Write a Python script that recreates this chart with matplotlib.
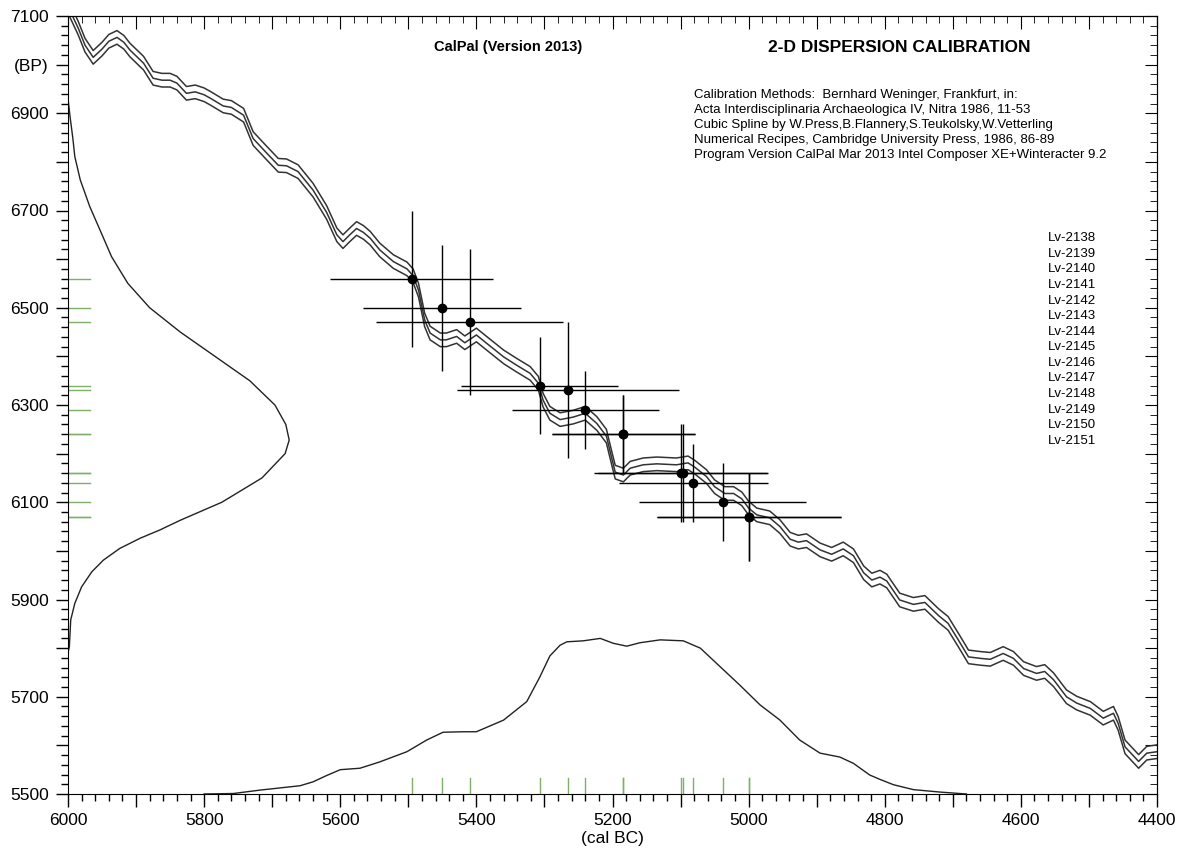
import numpy as np
import matplotlib
matplotlib.use("Agg")
import matplotlib.pyplot as plt
from matplotlib.ticker import MultipleLocator, FuncFormatter

plt.rcParams['font.family'] = ['Liberation Sans', 'DejaVu Sans']

# calibration curve centre line (cal BC, BP)
curve_calbc = [6000, 5985, 5975, 5963, 5950, 5940, 5928, 5918, 5909, 5889, 5875, 5862, 5850, 5840,
               5826, 5813, 5800, 5791, 5772, 5760, 5742, 5728, 5708, 5691, 5679, 5662, 5640, 5620,
               5605, 5596, 5586, 5576, 5566, 5556, 5542, 5522, 5502, 5493, 5485, 5476, 5468, 5453,
               5444, 5429, 5417, 5400, 5385, 5360, 5341, 5321, 5309, 5302, 5292, 5277, 5258, 5240,
               5223, 5209, 5201, 5196, 5184, 5174, 5155, 5135, 5106, 5089, 5079, 5062, 5050, 5035,
               5022, 5010, 5000, 4988, 4969, 4954, 4939, 4927, 4915, 4895, 4878, 4861, 4846, 4831,
               4819, 4807, 4797, 4778, 4758, 4741, 4721, 4707, 4692, 4677, 4660, 4645, 4626, 4611,
               4596, 4577, 4565, 4552, 4533, 4518, 4498, 4479, 4464, 4457, 4447, 4427, 4415, 4400]
curve_bp = [7120, 7075, 7040, 7015, 7032, 7048, 7056, 7046, 7030, 7003, 6972, 6968, 6968, 6962,
            6941, 6944, 6938, 6931, 6915, 6912, 6896, 6848, 6818, 6793, 6792, 6780, 6742, 6696,
            6650, 6636, 6650, 6663, 6655, 6643, 6619, 6595, 6580, 6566, 6536, 6475, 6448, 6434,
            6434, 6441, 6428, 6444, 6427, 6399, 6382, 6365, 6345, 6310, 6283, 6270, 6275, 6283,
            6262, 6236, 6190, 6162, 6156, 6170, 6177, 6179, 6177, 6181, 6172, 6153, 6132, 6118,
            6118, 6107, 6088, 6074, 6068, 6050, 6024, 6018, 6021, 6002, 5993, 6004, 5990, 5955,
            5940, 5946, 5938, 5899, 5890, 5894, 5867, 5851, 5817, 5782, 5779, 5777, 5789, 5779,
            5758, 5748, 5752, 5735, 5700, 5687, 5676, 5656, 5666, 5645, 5597, 5567, 5584, 5587]
curve_sigma = 14

# samples
labels = ["Lv-2138", "Lv-2139", "Lv-2140", "Lv-2141", "Lv-2142", "Lv-2143", "Lv-2144",
          "Lv-2145", "Lv-2146", "Lv-2147", "Lv-2148", "Lv-2149", "Lv-2150", "Lv-2151"]
age_bp = [6560, 6500, 6470, 6340, 6330, 6290, 6240, 6240, 6160, 6160, 6140, 6100, 6070, 6070]
age_err = [140, 130, 150, 100, 140, 80, 80, 80, 100, 100, 80, 80, 90, 90]
cal_bc = [5495, 5450, 5410, 5307, 5265, 5240, 5184, 5184, 5100, 5096, 5081, 5038, 5000, 5000]
cal_err = [120, 116, 138, 115, 163, 108, 105, 105, 127, 125, 110, 123, 135, 135]

# summed 14C distribution (BP, height in years), drawn from left axis
left_bp = [6930, 6893, 6850, 6811, 6763, 6708, 6660, 6605, 6550, 6500, 6450, 6400, 6350, 6300,
           6260, 6228, 6200, 6150, 6100, 6063, 6043, 6026, 6005, 5981, 5957, 5926, 5892, 5858,
           5803, 5790]
left_h = [0, 3, 7, 10, 18, 32, 47, 64, 88, 120, 165, 216, 267, 304,
          320, 325, 319, 285, 226, 165, 135, 106, 76, 52, 35, 20, 10, 4, 2, 0]

# summed calendar distribution (cal BC, height in BP units), drawn from bottom axis
bot_calbc = [5800, 5757, 5718, 5659, 5640, 5620, 5600, 5571, 5542, 5502, 5473, 5449, 5420, 5400,
             5360, 5326, 5307, 5292, 5277, 5267, 5243, 5218, 5199, 5179, 5160, 5130, 5096, 5071,
             5042, 5013, 4983, 4954, 4925, 4895, 4866, 4846, 4822, 4807, 4787, 4758, 4719, 4680]
bot_h = [0, 1, 8, 17, 25, 38, 50, 53, 66, 87, 111, 127, 128, 128,
         152, 190, 240, 284, 306, 313, 315, 320, 310, 304, 311, 317, 315, 300,
         262, 224, 183, 152, 111, 84, 76, 63, 39, 30, 19, 9, 4, 0]

ref_lines = ["Calibration Methods:  Bernhard Weninger, Frankfurt, in:",
             "Acta Interdisciplinaria Archaeologica IV, Nitra 1986, 11-53",
             "Cubic Spline by W.Press,B.Flannery,S.Teukolsky,W.Vetterling",
             "Numerical Recipes, Cambridge University Press, 1986, 86-89",
             "Program Version CalPal Mar 2013 Intel Composer XE+Winteracter 9.2"]

W, H = 1184, 848
fig = plt.figure(figsize=(W / 100, H / 100), dpi=100)
ax = fig.add_axes([68 / W, 54 / H, 1089 / W, 778 / H])

cx = np.array(curve_calbc)
cy = np.array(curve_bp)
for off in (-curve_sigma, 0, curve_sigma):
    ax.plot(cx, cy + off, color='#333333', lw=1.1)

ax.plot(6000 - np.array(left_h), left_bp, color='#222222', lw=1.0)
ax.plot(bot_calbc, 5500 + np.array(bot_h), color='#222222', lw=1.0)

ax.errorbar(cal_bc, age_bp, xerr=cal_err, yerr=age_err, fmt='o', color='black',
            ms=6, elinewidth=1.0, capsize=0)

green = '#7fb06a'
for b in age_bp:
    ax.plot([0, 0.02], [b, b], color=green, lw=1, transform=ax.get_yaxis_transform())
for c in cal_bc:
    ax.plot([c, c], [0, 0.02], color=green, lw=1, transform=ax.get_xaxis_transform())

ax.set_xlim(6000, 4400)
ax.set_ylim(5500, 7100)

ax.xaxis.set_major_locator(MultipleLocator(100))
ax.xaxis.set_minor_locator(MultipleLocator(20))
ax.yaxis.set_major_locator(MultipleLocator(100))
ax.yaxis.set_minor_locator(MultipleLocator(20))
ax.xaxis.set_major_formatter(FuncFormatter(lambda v, p: f"{v:.0f}" if round(v) % 200 == 0 else ""))


def ylab(v, p):
    v = round(v)
    if v == 7000:
        return "(BP)"
    return f"{v}" if (v - 100) % 200 == 0 else ""


ax.yaxis.set_major_formatter(FuncFormatter(ylab))
ax.tick_params(which='major', direction='out', length=9, width=1, labelsize=12.5, pad=5)
ax.tick_params(which='minor', direction='out', length=5, width=1)

top = ax.secondary_xaxis('top')
top.xaxis.set_major_locator(MultipleLocator(100))
top.xaxis.set_minor_locator(MultipleLocator(20))
top.tick_params(which='major', direction='in', length=9, labeltop=False)
top.tick_params(which='minor', direction='in', length=5)
right = ax.secondary_yaxis('right')
right.yaxis.set_major_locator(MultipleLocator(100))
right.yaxis.set_minor_locator(MultipleLocator(20))
right.tick_params(which='major', direction='in', length=9, labelright=False)
right.tick_params(which='minor', direction='in', length=5)

fig.text(612 / W, 1 - 838 / H, "(cal BC)", ha='center', va='center', fontsize=12.5)

fig.text(508 / W, 1 - 47 / H, "CalPal (Version 2013)", ha='center', va='center',
         fontsize=10.5, fontweight='bold')
fig.text(899 / W, 1 - 47 / H, "2-D DISPERSION CALIBRATION", ha='center', va='center',
         fontsize=12.5, fontweight='bold')
for i, line in enumerate(ref_lines):
    fig.text(694 / W, 1 - (95 + 15 * i) / H, line, ha='left', va='center', fontsize=9.5)

for i, lab in enumerate(labels):
    fig.text(1048 / W, 1 - (238.3 + 15.57 * i) / H, lab, ha='left', va='center', fontsize=9.5)

fig.savefig("out.png", dpi=100)
